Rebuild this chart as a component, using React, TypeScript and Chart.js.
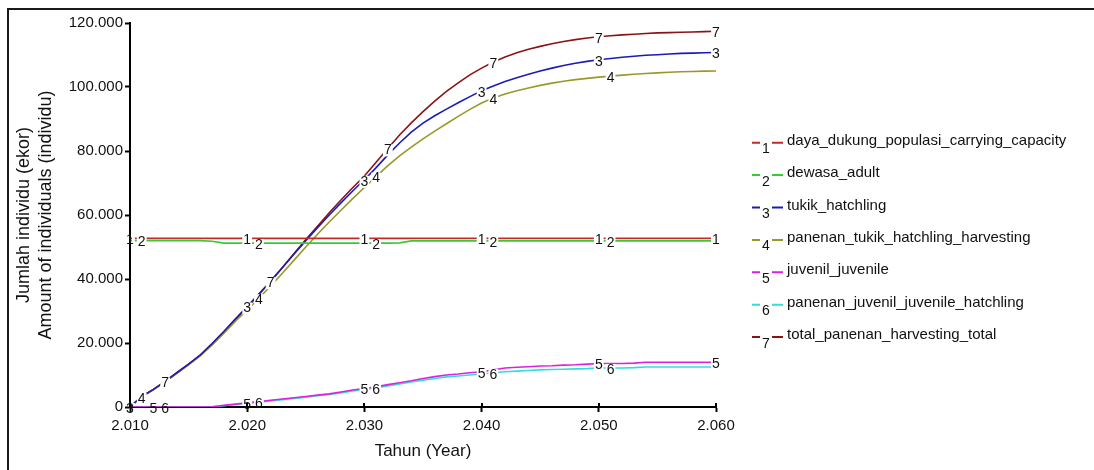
import React, { useEffect, useRef } from "react";
import { Chart, registerables } from "chart.js";

Chart.register(...registerables);

const years = [
  2010, 2011, 2012, 2013, 2014, 2015, 2016, 2017, 2018, 2019,
  2020, 2021, 2022, 2023, 2024, 2025, 2026, 2027, 2028, 2029,
  2030, 2031, 2032, 2033, 2034, 2035, 2036, 2037, 2038, 2039,
  2040, 2041, 2042, 2043, 2044, 2045, 2046, 2047, 2048, 2049,
  2050, 2051, 2052, 2053, 2054, 2055, 2056, 2057, 2058, 2059, 2060,
];

const dayaDukung = [
  52700, 52700, 52700, 52700, 52700, 52700, 52700, 52700, 52700, 52700,
  52700, 52700, 52700, 52700, 52700, 52700, 52700, 52700, 52700, 52700,
  52700, 52700, 52700, 52700, 52700, 52700, 52700, 52700, 52700, 52700,
  52700, 52700, 52700, 52700, 52700, 52700, 52700, 52700, 52700, 52700,
  52700, 52700, 52700, 52700, 52700, 52700, 52700, 52700, 52700, 52700, 52700,
];

const dewasa = [
  52000, 52000, 52000, 52000, 52000, 52000, 52000, 51800, 51200, 51200,
  51200, 51200, 51200, 51200, 51200, 51200, 51200, 51200, 51200, 51200,
  51200, 51200, 51200, 51300, 51900, 51900, 51900, 51900, 51900, 51900,
  51900, 51900, 51900, 51900, 51900, 51900, 51900, 51900, 51900, 51900,
  51900, 51900, 51900, 51900, 51900, 51900, 51900, 51900, 51900, 51900, 51900,
];

const tukik = [
  0, 3300, 5500, 8000, 10700, 13400, 16300, 19800, 23600, 27600,
  31400, 35300, 39300, 43500, 47800, 52000, 56000, 60000, 63800, 67500,
  71000, 74800, 78800, 82500, 85900, 88700, 91000, 93100, 95100, 97000,
  98800, 100300, 101700, 102900, 104000, 105000, 105900, 106700, 107400, 108000,
  108500, 108900, 109300, 109600, 109900, 110100, 110300, 110500, 110600, 110700, 110800,
];

const panenanTukik = [
  0, 3200, 5400, 7900, 10500, 13200, 16000, 19400, 23000, 26800,
  30300, 34000, 37800, 41800, 45900, 50000, 54000, 57800, 61500, 65100,
  68600, 72000, 75400, 78500, 81200, 83800, 86200, 88500, 90800, 93000,
  95000, 96600, 97800, 98800, 99700, 100500, 101200, 101800, 102300, 102700,
  103100, 103400, 103700, 104000, 104200, 104400, 104600, 104750, 104850, 104950, 105000,
];

const juvenil = [
  0, 0, 0, 0, 0, 0, 0, 100, 500, 900,
  1300, 1700, 2100, 2500, 2900, 3300, 3700, 4100, 4700, 5300,
  5800, 6300, 7000, 7600, 8200, 8900, 9500, 10000, 10300, 10700,
  11000, 11600, 12200, 12400, 12600, 12800, 12900, 13100, 13200, 13400,
  13600, 13600, 13600, 13700, 14000, 14000, 14000, 14000, 14000, 14000, 14000,
];

const panenanJuvenil = [
  0, 0, 0, 0, 0, 0, 0, 50, 400, 800,
  1150, 1500, 1900, 2300, 2700, 3100, 3500, 3900, 4400, 5000,
  5500, 6000, 6600, 7200, 7800, 8400, 8900, 9400, 9700, 10000,
  10300, 10700, 11000, 11200, 11400, 11600, 11700, 11800, 11900, 12000,
  12200, 12200, 12200, 12300, 12500, 12500, 12500, 12500, 12500, 12500, 12500,
];

const totalPanenan = [
  0, 3300, 5500, 8000, 10700, 13400, 16100, 19500, 23300, 27300,
  31200, 35200, 39300, 43600, 48000, 52300, 56500, 60700, 64700, 68500,
  72200, 76500, 80800, 85000, 88800, 92300, 95600, 98600, 101300, 103800,
  105900, 107800, 109400, 110700, 111800, 112700, 113500, 114200, 114800, 115300,
  115700, 116000, 116300, 116500, 116700, 116900, 117000, 117100, 117200, 117300, 117400,
];

const seriesNames = [
  "daya_dukung_populasi_carrying_capacity",
  "dewasa_adult",
  "tukik_hatchling",
  "panenan_tukik_hatchling_harvesting",
  "juvenil_juvenile",
  "panenan_juvenil_juvenile_hatchling",
  "total_panenan_harvesting_total",
];

const seriesColors = [
  "#c42a2a",
  "#33cc33",
  "#1c1cb4",
  "#99992a",
  "#dd22dd",
  "#33dddd",
  "#8a1414",
];

const labelYears1 = [2010, 2020, 2030, 2040, 2050, 2060];
const labelYears2 = [2011, 2021, 2031, 2041, 2051];
const labelYears3 = [2010, 2020, 2030, 2040, 2050, 2060];
const labelYears4 = [2011, 2021, 2031, 2041, 2051];
const labelYears5 = [2012, 2020, 2030, 2040, 2050, 2060];
const labelYears6 = [2013, 2021, 2031, 2041, 2051];
const labelYears7 = [2013, 2022, 2032, 2041, 2050, 2060];

const xTicks = [2010, 2020, 2030, 2040, 2050, 2060];
const yTicks = [0, 20000, 40000, 60000, 80000, 100000, 120000];

const yTitle = ["Jumlah individu (ekor)", "Amount of individuals (individu)"];
const xTitle = "Tahun (Year)";

const FONT = "'Liberation Sans', Arial, Helvetica, sans-serif";

const fmt = (n: number) =>
  String(Math.round(n)).replace(/\B(?=(\d{3})+(?!\d))/g, ".");

export default function App() {
  const ref = useRef<HTMLCanvasElement | null>(null);

  useEffect(() => {
    const canvas = ref.current;
    if (!canvas) return;

    const allSeries = [
      dayaDukung,
      dewasa,
      tukik,
      panenanTukik,
      juvenil,
      panenanJuvenil,
      totalPanenan,
    ];
    const allLabelYears = [
      labelYears1,
      labelYears2,
      labelYears3,
      labelYears4,
      labelYears5,
      labelYears6,
      labelYears7,
    ];

    const bgPlugin = {
      id: "bg",
      beforeDraw(chart: any) {
        const ctx = chart.ctx;
        ctx.save();
        ctx.fillStyle = "#fff";
        ctx.fillRect(0, 0, chart.width, chart.height);
        ctx.restore();
      },
      afterDraw(chart: any) {
        const ctx = chart.ctx;
        ctx.save();
        ctx.strokeStyle = "#1a1a1a";
        ctx.lineWidth = 2;
        ctx.beginPath();
        ctx.moveTo(7, 9);
        ctx.lineTo(chart.width, 9);
        ctx.moveTo(8, 8);
        ctx.lineTo(8, chart.height);
        ctx.stroke();
        ctx.restore();
      },
    };

    const xTickUp = {
      id: "xTickUp",
      afterDraw(chart: any) {
        const ctx = chart.ctx;
        const xs = chart.scales.x;
        const bottom = chart.chartArea.bottom;
        ctx.save();
        ctx.strokeStyle = "#000";
        ctx.lineWidth = 2;
        ctx.beginPath();
        xTicks.forEach((t) => {
          const px = Math.round(xs.getPixelForValue(t));
          ctx.moveTo(px, bottom - 4);
          ctx.lineTo(px, bottom);
        });
        ctx.stroke();
        ctx.restore();
      },
    };

    const lineLabels = {
      id: "lineLabels",
      afterDatasetsDraw(chart: any) {
        const ctx = chart.ctx;
        const xs = chart.scales.x;
        const ys = chart.scales.y;
        const area = chart.chartArea;
        ctx.save();
        ctx.font = `14px ${FONT}`;
        ctx.textAlign = "center";
        ctx.textBaseline = "middle";
        allLabelYears.forEach((ly, si) => {
          ly.forEach((yr) => {
            const idx = years.indexOf(yr);
            if (idx < 0) return;
            const v = allSeries[si][idx];
            const px = xs.getPixelForValue(yr);
            const py = ys.getPixelForValue(v) + 2;
            const txt = String(si + 1);
            const w = ctx.measureText(txt).width + 2;
            ctx.save();
            ctx.beginPath();
            ctx.rect(area.left + 2, area.top, area.right - area.left, area.bottom - area.top - 2);
            ctx.clip();
            ctx.fillStyle = "#fff";
            ctx.fillRect(px - w / 2, py - 6, w, 12);
            ctx.restore();
            ctx.fillStyle = "#111";
            ctx.fillText(txt, px, py);
          });
        });
        ctx.restore();
      },
    };

    const customLegend = {
      id: "customLegend",
      afterDraw(chart: any) {
        const ctx = chart.ctx;
        ctx.save();
        seriesNames.forEach((name, i) => {
          const ly = 142.7 + i * 32.4;
          ctx.strokeStyle = seriesColors[i];
          ctx.lineWidth = 2;
          ctx.beginPath();
          ctx.moveTo(752, ly);
          ctx.lineTo(760, ly);
          ctx.moveTo(772, ly);
          ctx.lineTo(783, ly);
          ctx.stroke();
          ctx.fillStyle = "#111";
          ctx.font = `14px ${FONT}`;
          ctx.textAlign = "center";
          ctx.textBaseline = "alphabetic";
          ctx.fillText(String(i + 1), 766, ly + 10.5);
          ctx.font = `15px ${FONT}`;
          ctx.textAlign = "left";
          ctx.fillText(name, 787, ly + 2);
        });
        ctx.restore();
      },
    };

    const datasets = allSeries.map((vals, i) => ({
      label: seriesNames[i],
      data: vals.map((v, j) => ({ x: years[j], y: v })),
      borderColor: seriesColors[i],
      backgroundColor: seriesColors[i],
      borderWidth: 1.6,
      pointRadius: 0,
      tension: 0,
      fill: false,
    }));

    const chart = new Chart(canvas, {
      type: "line",
      data: { datasets },
      options: {
        animation: false,
        responsive: false,
        devicePixelRatio: 1,
        layout: { padding: { left: 0, right: 378, top: 23, bottom: 0 } },
        plugins: {
          legend: { display: false },
          tooltip: { enabled: false },
        },
        font: { family: FONT },
        scales: {
          x: {
            type: "linear",
            min: 2010,
            max: 2060,
            afterFit(scale: any) {
              scale.height = 63;
            },
            afterBuildTicks(scale: any) {
              scale.ticks = xTicks.map((v) => ({ value: v }));
            },
            ticks: {
              color: "#111",
              font: { family: FONT, size: 15 },
              padding: 5,
              maxRotation: 0,
              autoSkip: false,
              callback: (v: any) => fmt(Number(v)),
            },
            grid: {
              display: true,
              drawOnChartArea: false,
              drawTicks: true,
              tickLength: 5,
              tickWidth: 2,
              tickColor: "#000",
            },
            border: { display: true, color: "#000", width: 2 },
            title: {
              display: true,
              text: xTitle,
              color: "#111",
              font: { family: FONT, size: 17 },
              padding: { top: 0, bottom: 8 },
            },
          },
          y: {
            type: "linear",
            min: 0,
            max: 120000,
            afterFit(scale: any) {
              scale.width = 130;
            },
            afterBuildTicks(scale: any) {
              scale.ticks = yTicks.map((v) => ({ value: v }));
            },
            ticks: {
              color: "#111",
              font: { family: FONT, size: 15 },
              padding: 2,
              autoSkip: false,
              callback: (v: any) => fmt(Number(v)),
            },
            grid: {
              display: true,
              drawOnChartArea: false,
              drawTicks: true,
              tickLength: 5,
              tickWidth: 2,
              tickColor: "#000",
            },
            border: { display: true, color: "#000", width: 2 },
            title: {
              display: true,
              text: yTitle,
              color: "#111",
              font: { family: FONT, size: 18, lineHeight: 1.22 },
              padding: { top: 13, bottom: 0 },
            },
          },
        },
      } as any,
      plugins: [bgPlugin, lineLabels, xTickUp, customLegend],
    });

    return () => chart.destroy();
  }, []);

  return (
    <div
      style={{
        position: "fixed",
        left: 0,
        top: 0,
        width: 1094,
        height: 470,
        background: "#fff",
      }}
    >
      <canvas ref={ref} width={1094} height={470} style={{ display: "block", width: 1094, height: 470 }} />
    </div>
  );
}
